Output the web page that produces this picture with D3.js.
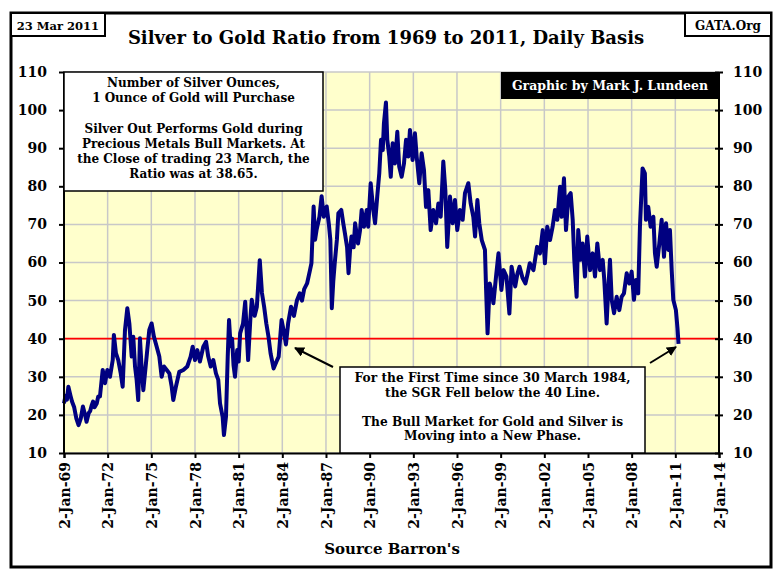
<!DOCTYPE html>
<html><head><meta charset="utf-8">
<script src="https://cdn.jsdelivr.net/npm/d3@7"></script>
<style>
html,body{margin:0;padding:0;background:#fff;}
text{font-family:"DejaVu Serif",Georgia,serif;font-weight:bold;}
</style></head>
<body><svg id="c" width="780" height="574"></svg>
<script>
// ---- data (decimal year, silver/gold ratio) ----
const years = [1969.0,1969.1,1969.2,1969.3,1969.45,1969.55,1969.7,1969.85,1970.0,1970.15,1970.3,1970.45,1970.55,1970.7,1970.8,1970.9,1971.0,1971.1,1971.25,1971.35,1971.47,1971.66,1971.82,1971.98,1972.16,1972.35,1972.43,1972.57,1972.73,1972.9,1973.03,1973.19,1973.35,1973.49,1973.65,1973.76,1973.88,1973.99,1974.1,1974.22,1974.34,1974.45,1974.61,1974.72,1974.86,1975.02,1975.18,1975.37,1975.55,1975.71,1975.87,1976.06,1976.24,1976.4,1976.51,1976.69,1976.92,1977.2,1977.47,1977.7,1977.84,1978.0,1978.16,1978.34,1978.57,1978.76,1978.91,1979.08,1979.26,1979.44,1979.6,1979.72,1979.9,1979.99,1980.13,1980.25,1980.34,1980.45,1980.55,1980.65,1980.75,1980.9,1981.0,1981.1,1981.3,1981.45,1981.55,1981.65,1981.8,1981.9,1982.1,1982.25,1982.45,1982.6,1982.75,1982.9,1983.05,1983.2,1983.4,1983.6,1983.75,1983.95,1984.1,1984.25,1984.4,1984.6,1984.8,1985.0,1985.2,1985.35,1985.5,1985.7,1985.9,1986.0,1986.15,1986.25,1986.35,1986.55,1986.7,1986.85,1987.05,1987.2,1987.3,1987.4,1987.5,1987.6,1987.75,1987.85,1988.05,1988.2,1988.3,1988.45,1988.55,1988.65,1988.75,1988.9,1989.0,1989.2,1989.34,1989.45,1989.61,1989.8,1989.9,1990.07,1990.25,1990.37,1990.52,1990.66,1990.78,1990.9,1990.98,1991.12,1991.21,1991.35,1991.45,1991.58,1991.74,1991.9,1992.03,1992.2,1992.36,1992.5,1992.65,1992.77,1992.95,1993.11,1993.23,1993.41,1993.57,1993.73,1993.87,1994.03,1994.19,1994.37,1994.56,1994.72,1994.88,1995.06,1995.2,1995.33,1995.52,1995.7,1995.86,1996.02,1996.2,1996.39,1996.55,1996.78,1996.94,1997.12,1997.24,1997.4,1997.53,1997.7,1997.92,1998.0,1998.1,1998.25,1998.4,1998.5,1998.7,1998.85,1999.05,1999.2,1999.4,1999.6,1999.75,2000.0,2000.15,2000.3,2000.5,2000.7,2000.85,2001.0,2001.25,2001.5,2001.7,2001.89,2002.04,2002.2,2002.39,2002.57,2002.73,2002.89,2003.08,2003.19,2003.35,2003.49,2003.65,2003.81,2003.95,2004.06,2004.22,2004.33,2004.5,2004.63,2004.79,2004.95,2005.14,2005.32,2005.48,2005.64,2005.82,2006.01,2006.12,2006.28,2006.39,2006.51,2006.63,2006.79,2006.97,2007.15,2007.31,2007.47,2007.66,2007.84,2008.0,2008.16,2008.3,2008.45,2008.57,2008.75,2008.91,2008.98,2009.14,2009.3,2009.49,2009.6,2009.72,2009.9,2010.06,2010.22,2010.36,2010.52,2010.63,2010.75,2010.86,2011.04,2011.15,2011.22];
const ratios = [23,25,24,27.4,25,23.5,22,19,17.3,19,22.2,20,18.2,20.5,21,22.5,23.5,22,23,24.8,24.8,31.8,28.3,31.8,30,34.4,41,36.2,34.4,30.9,27.4,42.3,48,44,35.3,40.5,32.7,29.2,23.9,40.1,31.8,26.5,32.7,37,42.3,44,40.5,37.9,35.3,30,32.7,31.8,30.9,27.4,23.9,27.4,31.3,31.8,32.7,35.3,37.9,34.4,37,34,37.9,39.2,35.3,32.7,34.4,30.9,29.2,23,19.5,14.7,19.5,35.3,44.9,38,40,33,30,37,34,41.4,44,49.7,42,34.4,45,50.2,46,48.4,60.6,52,48.4,44,40.5,36,32.2,34,35.3,44.9,42,38.5,44,48.4,46,50,51.9,50,53,54.5,58,59.8,74.7,66,68.5,72,77.4,72,74.7,70,65.9,48,55,59.8,66,72.9,73.8,70,67.7,64,57.2,63,66.8,64,70.3,65,68.5,73.8,69.4,73.8,69.4,80.8,73.8,70.3,77.3,83.4,92.2,89.5,96.5,102,92.2,87.8,82.5,91.3,86,94.3,85.2,82.5,86,92.2,87.8,94.8,86.9,93.9,87.8,80.8,88.7,84.3,74.6,79,68.5,73.8,70.3,75.5,72,86.5,79,64.1,77.3,70.3,76.4,68.5,73.8,71.2,78.2,80.8,75.5,72,66.8,76.4,70.3,65.9,63.3,52.8,41.4,54.5,52,49.3,57,62.4,52.8,58,56.3,46.6,58.9,53.7,57,58.9,56,54.5,57,59.8,58,64.1,62.4,68.5,59.8,69.4,65.9,69.4,73.8,71.2,79.9,72,82.1,68.5,77.3,78.2,71.2,60.7,51,68.5,60.7,65,56.3,66.8,58,62.4,56.3,65,58,60.7,55.4,44,52.8,60.7,50.2,46.7,51,47.5,51,51.9,57.2,54.5,57.6,50.2,55.4,51.9,69.4,84.7,83.4,71.2,74.6,69.4,72,62.4,58.9,65,71.2,61.5,70.3,63.3,68.5,58,50.2,47.5,42.7,38.65];
const tickYears = [1969,1972,1975,1978,1981,1984,1987,1990,1993,1996,1999,2002,2005,2008,2011,2014];
const tickLabels = ["2-Jan-69","2-Jan-72","2-Jan-75","2-Jan-78","2-Jan-81","2-Jan-84","2-Jan-87","2-Jan-90","2-Jan-93","2-Jan-96","2-Jan-99","2-Jan-02","2-Jan-05","2-Jan-08","2-Jan-11","2-Jan-14"];
const yTicks = [10,20,30,40,50,60,70,80,90,100,110];
const refLevel = 40;
const titleText = "Silver to Gold Ratio from 1969 to 2011, Daily Basis";
const dateText = "23 Mar 2011";
const siteText = "GATA.Org";
const creditText = "Graphic by Mark J. Lundeen";
const sourceText = "Source Barron's";
const noteTop = ["Number of Silver Ounces,","1 Ounce of Gold will Purchase","","Silver Out Performs Gold during","Precious Metals Bull Markets.  At","the Close of trading 23 March, the","Ratio was at 38.65."];
const noteBottom = ["For the First Time since 30 March 1984,","the SGR Fell below the 40 Line.","","The Bull Market for Gold and Silver is","Moving into a New Phase."];

// ---- drawing ----
const svg = d3.select("#c");
const toDate = y => { const yr = Math.floor(y); const base = new Date(yr,0,2); return new Date(base.getTime() + (y-yr)*365.25*864e5); };
const L=64, R=719, T=72, B=453;
const x = d3.scaleTime().domain([toDate(1969), toDate(2014)]).range([L,R]);
const y = d3.scaleLinear().domain([10,110]).range([B,T]);

// outer frame
svg.append("rect").attr("x",11).attr("y",13).attr("width",760).attr("height",554)
  .attr("fill","#fff").attr("stroke","#000").attr("stroke-width",3);

// plot bg
svg.append("rect").attr("x",L).attr("y",T).attr("width",R-L).attr("height",B-T).attr("fill","#FFFFCC");

// grid
const grid = svg.append("g").attr("stroke","#C8C8C8").attr("stroke-width",1.5);
grid.selectAll(".h").data(yTicks).join("line").attr("x1",L).attr("x2",R).attr("y1",d=>y(d)).attr("y2",d=>y(d));
grid.selectAll(".v").data(tickYears.slice(1,-1)).join("line").attr("y1",T).attr("y2",B).attr("x1",d=>x(toDate(d))).attr("x2",d=>x(toDate(d)));

// ref line
svg.append("line").attr("x1",L).attr("x2",R).attr("y1",y(refLevel)).attr("y2",y(refLevel)).attr("stroke","#FF0000").attr("stroke-width",1.8);

// series
const pts = years.map((yr,i)=>({d:toDate(yr), v:ratios[i]}));
svg.append("path").datum(pts).attr("fill","none").attr("stroke","#000080").attr("stroke-width",4)
  .attr("stroke-linejoin","round")
  .attr("d", d3.line().x(p=>x(p.d)).y(p=>y(p.v)));

// axes
const fs = "14px";
const leftAx = d3.axisLeft(y).tickValues(yTicks).tickSize(5).tickPadding(12).tickFormat(d3.format("d"));
const gL = svg.append("g").attr("transform",`translate(${L},0)`).call(leftAx);
const rightAx = d3.axisRight(y).tickValues(yTicks).tickSize(4).tickPadding(10).tickFormat(d3.format("d"));
const gR = svg.append("g").attr("transform",`translate(${R},0)`).call(rightAx);
gR.selectAll(".tick line").attr("x1",-4);
const bottomAx = d3.axisBottom(x).tickValues(tickYears.map(toDate)).tickSize(5)
  .tickFormat((d,i)=>tickLabels[i]);
const gB = svg.append("g").attr("transform",`translate(0,${B})`).call(bottomAx);
gB.selectAll("text").attr("transform","rotate(-90)").attr("text-anchor","end")
  .attr("x",-9).attr("y",0).attr("dy","0.36em");
[gL,gR,gB].forEach(g=>{
  g.selectAll(".domain").attr("stroke","#000").attr("stroke-width",2);
  g.selectAll(".tick line").attr("stroke","#000").attr("stroke-width",2);
  g.selectAll("text").attr("fill","#000").style("font-size",fs).style("font-family","DejaVu Serif").style("font-weight","bold");
});
gR.select(".domain").attr("d",`M0,${T}V${B}`);
gL.select(".domain").attr("d",`M0,${T}V${B}`);

// title & labels
svg.append("text").attr("x",386).attr("y",44).attr("text-anchor","middle").style("font-size","18px").text(titleText);
svg.append("text").attr("x",392).attr("y",554).attr("text-anchor","middle").style("font-size","15px").text(sourceText);

// corner boxes
svg.append("rect").attr("x",11).attr("y",13).attr("width",94).attr("height",23).attr("fill","#fff").attr("stroke","#000").attr("stroke-width",2);
svg.append("text").attr("x",58).attr("y",30).attr("text-anchor","middle").style("font-size","11.5px").text(dateText);
svg.append("rect").attr("x",685).attr("y",13).attr("width",86).attr("height",23).attr("fill","#fff").attr("stroke","#000").attr("stroke-width",2);
svg.append("text").attr("x",728).attr("y",30).attr("text-anchor","middle").style("font-size","12px").text(siteText);

// credit box
svg.append("rect").attr("x",501).attr("y",T).attr("width",R-501).attr("height",27).attr("fill","#000");
svg.append("text").attr("x",610).attr("y",90).attr("text-anchor","middle").attr("fill","#fff").style("font-size","12.5px").text(creditText);

// note boxes
svg.append("rect").attr("x",L).attr("y",T).attr("width",259).attr("height",119).attr("fill","#fff").attr("stroke","#000").attr("stroke-width",1.5);
svg.append("g").selectAll("text").data(noteTop).join("text")
  .attr("x",193.5).attr("y",(d,i)=>87+i*15.2).attr("text-anchor","middle").style("font-size","12px").text(d=>d);
svg.append("rect").attr("x",340).attr("y",367).attr("width",305).attr("height",B-367).attr("fill","#fff").attr("stroke","#000").attr("stroke-width",1.5);
svg.append("g").selectAll("text").data(noteBottom).join("text")
  .attr("x",492.5).attr("y",(d,i)=>382+i*14.5).attr("text-anchor","middle").style("font-size","12.2px").text(d=>d);

// arrows
const defs = svg.append("defs");
defs.append("marker").attr("id","ah").attr("viewBox","0 0 10 10").attr("refX",9).attr("refY",5)
  .attr("markerWidth",5).attr("markerHeight",5).attr("orient","auto")
  .append("path").attr("d","M0,0L10,5L0,10z").attr("fill","#000");
svg.append("line").attr("x1",333).attr("y1",367).attr("x2",295).attr("y2",348).attr("stroke","#000").attr("stroke-width",2).attr("marker-end","url(#ah)");
svg.append("line").attr("x1",650).attr("y1",363).attr("x2",676).attr("y2",347).attr("stroke","#000").attr("stroke-width",2).attr("marker-end","url(#ah)");
</script></body></html>
